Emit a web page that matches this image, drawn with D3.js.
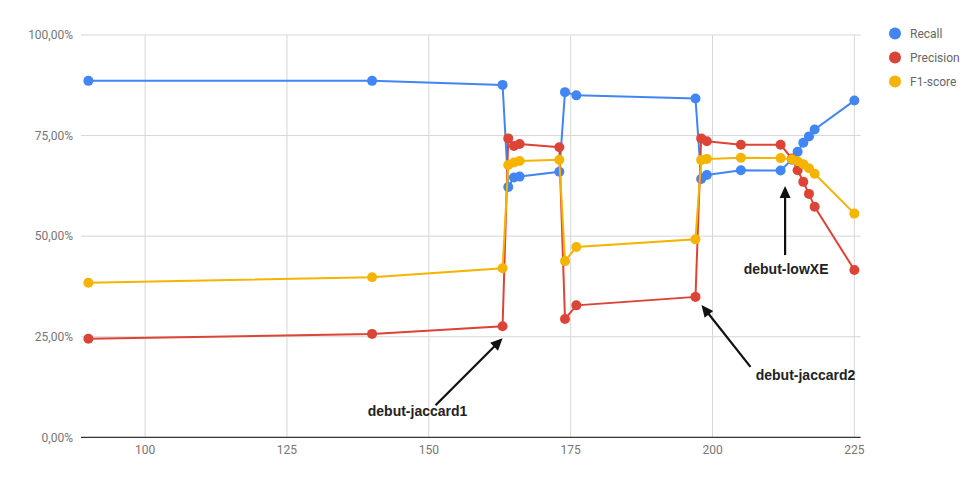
<!DOCTYPE html>
<html>
<head>
<meta charset="utf-8">
<script src="https://cdn.jsdelivr.net/npm/d3@7"></script>
<style>
  html, body { margin: 0; padding: 0; background: #fff; }
  svg { display: block; }
</style>
</head>
<body>
<svg id="chart" width="979" height="487"></svg>
<script>
// ---- data ----
const xValues = [90, 140, 163, 164, 165, 166, 173, 174, 176, 197, 198, 199, 205, 212, 214, 215, 216, 217, 218, 225];
const recall = [88.6, 88.6, 87.6, 62.2, 64.6, 64.8, 66.0, 85.8, 85.0, 84.2, 64.2, 65.2, 66.4, 66.3, 69.0, 71.0, 73.2, 74.8, 76.5, 83.7];
const precision = [24.5, 25.7, 27.6, 74.3, 72.4, 72.9, 72.1, 29.4, 32.8, 34.9, 74.3, 73.6, 72.7, 72.7, 69.3, 66.4, 63.5, 60.5, 57.3, 41.6];
const f1score = [38.4, 39.8, 42.0, 67.7, 68.3, 68.7, 69.0, 43.8, 47.3, 49.2, 68.9, 69.2, 69.5, 69.4, 69.1, 68.6, 67.9, 66.9, 65.5, 55.6];
const seriesNames = ["Recall", "Precision", "F1-score"];
const seriesColors = ["#4285F4", "#DB4437", "#F4B400"];
const xTicks = [100, 125, 150, 175, 200, 225];
const yTicks = [0, 0.25, 0.5, 0.75, 1];
const annotationLabels = ["debut-jaccard1", "debut-jaccard2", "debut-lowXE"];
const annotationX = [163, 197, 212];
const annotationSeries = [1, 1, 0];

// ---- layout ----
const svg = d3.select("#chart");
const x = d3.scaleLinear().domain([88.7, 226.1]).range([81, 860.6]);
const y = d3.scaleLinear().domain([0, 1]).range([437.3, 35]);
const fontAxis = "Roboto, 'Noto Sans', sans-serif";

const seriesData = [recall, precision, f1score].map((vals, i) => ({
  name: seriesNames[i],
  color: seriesColors[i],
  points: xValues.map((xv, j) => ({ x: xv, y: vals[j] / 100 }))
}));

// gridlines
svg.append("g").selectAll("line.h").data(yTicks.filter(d => d > 0)).join("line")
  .attr("x1", x.range()[0]).attr("x2", x.range()[1])
  .attr("y1", d => y(d)).attr("y2", d => y(d))
  .attr("stroke", "#d6d6d6").attr("stroke-width", 1);
svg.append("g").selectAll("line.v").data(xTicks).join("line")
  .attr("x1", d => x(d)).attr("x2", d => x(d))
  .attr("y1", y(1)).attr("y2", y(0))
  .attr("stroke", "#d6d6d6").attr("stroke-width", 1);

// y axis labels
const pctFmt = d => d3.format(".2f")(d * 100).replace(".", ",") + "%";
svg.append("g").selectAll("text").data(yTicks).join("text")
  .attr("x", 73).attr("y", d => y(d)).attr("dy", "0.35em")
  .attr("text-anchor", "end")
  .attr("font-family", fontAxis).attr("font-size", 12).attr("fill", "#757575")
  .text(pctFmt);

// x axis labels
svg.append("g").selectAll("text").data(xTicks).join("text")
  .attr("x", d => x(d)).attr("y", 449.5).attr("dy", "0.35em")
  .attr("text-anchor", "middle")
  .attr("font-family", fontAxis).attr("font-size", 12).attr("fill", "#757575")
  .text(d => d);

// baseline
svg.append("line")
  .attr("x1", x.range()[0]).attr("x2", x.range()[1])
  .attr("y1", y(0)).attr("y2", y(0))
  .attr("stroke", "#333").attr("stroke-width", 1.2);

// series
const line = d3.line().x(d => x(d.x)).y(d => y(d.y));
const gS = svg.append("g");
seriesData.forEach(s => {
  const g = gS.append("g");
  g.append("path").datum(s.points)
    .attr("d", line).attr("fill", "none")
    .attr("stroke", s.color).attr("stroke-width", 2);
  g.selectAll("circle").data(s.points).join("circle")
    .attr("cx", d => x(d.x)).attr("cy", d => y(d.y)).attr("r", 5)
    .attr("fill", s.color);
});

// annotations (arrow tail/text offsets relative to target point)
const annOffsets = [
  { tip: [0, 12], tail: [-67, 79], text: [-85, 90] },
  { tip: [6, 8], tail: [55, 70], text: [110, 83] },
  { tip: [4.5, 15.5], tail: [4.5, 84.5], text: [5.5, 103] }
];
const series2 = [recall, precision, f1score];
const gA = svg.append("g");
annotationLabels.forEach((lab, i) => {
  const idx = xValues.indexOf(annotationX[i]);
  const px = x(annotationX[i]);
  const py = y(series2[annotationSeries[i]][idx] / 100);
  const o = annOffsets[i];
  const tip = [px + o.tip[0], py + o.tip[1]];
  const tail = [px + o.tail[0], py + o.tail[1]];
  const dx = tip[0] - tail[0], dy = tip[1] - tail[1];
  const len = Math.hypot(dx, dy);
  const ux = dx / len, uy = dy / len;
  const headL = 12, headW = 5.5;
  const base = [tip[0] - ux * headL, tip[1] - uy * headL];
  gA.append("line")
    .attr("x1", tail[0]).attr("y1", tail[1])
    .attr("x2", base[0] + ux * 1).attr("y2", base[1] + uy * 1)
    .attr("stroke", "#111").attr("stroke-width", 2.2);
  gA.append("polygon")
    .attr("points", [
      tip,
      [base[0] - uy * headW, base[1] + ux * headW],
      [base[0] + uy * headW, base[1] - ux * headW]
    ].map(p => p.join(",")).join(" "))
    .attr("fill", "#111");
  gA.append("text")
    .attr("x", px + o.text[0]).attr("y", py + o.text[1])
    .attr("text-anchor", "middle")
    .attr("font-family", "'Liberation Sans', Arial, sans-serif")
    .attr("font-weight", "bold").attr("font-size", 14).attr("fill", "#222")
    .text(lab);
});

// legend
const gL = svg.append("g");
seriesNames.forEach((n, i) => {
  const ly = 33.5 + i * 24;
  gL.append("circle").attr("cx", 895).attr("cy", ly).attr("r", 6).attr("fill", seriesColors[i]);
  gL.append("text").attr("x", 910).attr("y", ly).attr("dy", "0.35em")
    .attr("font-family", fontAxis).attr("font-size", 12).attr("fill", "#666")
    .text(n);
});
</script>
</body>
</html>
